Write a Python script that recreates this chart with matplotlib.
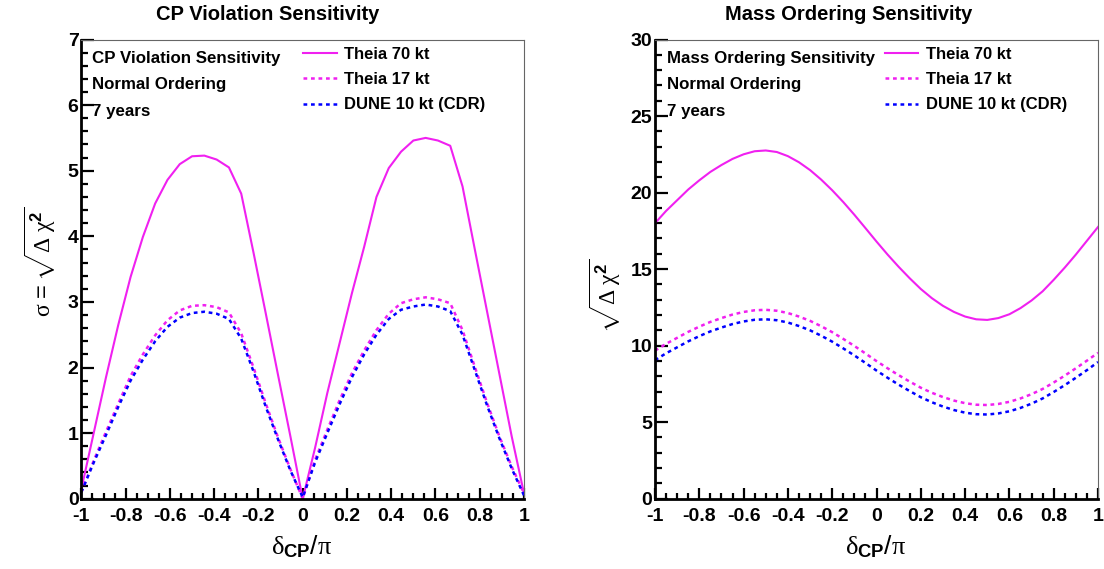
"""Theia vs DUNE sensitivity: CP violation and mass ordering vs delta_CP."""

import matplotlib

matplotlib.use("Agg")
import matplotlib.pyplot as plt
import numpy as np
from matplotlib.ticker import MultipleLocator

plt.rcParams["font.family"] = ["Liberation Sans", "DejaVu Sans"]
plt.rcParams["font.weight"] = "normal"
plt.rcParams["mathtext.fontset"] = "custom"
plt.rcParams["mathtext.rm"] = "Liberation Serif:regular"
plt.rcParams["mathtext.it"] = "Liberation Serif:italic"
plt.rcParams["mathtext.bf"] = "Liberation Sans:bold"
plt.rcParams["mathtext.sf"] = "Liberation Sans:regular"

# --- data -----------------------------------------------------------------
# CP violation: sampled every 10 degrees in delta_CP
cpv_delta = np.linspace(-1.0, 1.0, 37)
cpv_theia70 = [0.15, 1.00, 1.85, 2.65, 3.38, 3.99, 4.50, 4.86, 5.10, 5.22, 5.23, 5.17, 5.05,
               4.65, 3.75, 2.82, 1.88, 0.95, 0.00, 0.77, 1.61, 2.37, 3.13, 3.84, 4.60, 5.04,
               5.29, 5.46, 5.50, 5.46, 5.38, 4.76, 3.80, 2.85, 1.90, 0.95, 0.08]
cpv_theia17 = [0.10, 0.58, 1.02, 1.45, 1.87, 2.20, 2.49, 2.72, 2.87, 2.94, 2.95, 2.92, 2.84,
               2.52, 2.00, 1.45, 0.93, 0.45, 0.00, 0.59, 1.05, 1.50, 1.91, 2.26, 2.57, 2.82,
               2.98, 3.04, 3.07, 3.04, 2.98, 2.57, 2.01, 1.46, 0.95, 0.49, 0.08]
cpv_dune10 = [0.10, 0.55, 0.97, 1.40, 1.80, 2.12, 2.40, 2.62, 2.76, 2.83, 2.85, 2.82, 2.74,
              2.44, 1.94, 1.40, 0.90, 0.43, 0.02, 0.55, 1.00, 1.44, 1.85, 2.20, 2.50, 2.74,
              2.88, 2.93, 2.96, 2.93, 2.86, 2.50, 1.96, 1.42, 0.92, 0.46, 0.05]

# Mass ordering: sampled every 0.05 in delta_CP/pi
mo_delta = np.linspace(-1.0, 1.0, 41)
mo_theia70 = [18.00, 18.80, 19.50, 20.20, 20.80, 21.35, 21.80, 22.20, 22.50, 22.70, 22.75,
              22.65, 22.38, 21.98, 21.47, 20.85, 20.15, 19.38, 18.55, 17.68, 16.80, 15.95,
              15.15, 14.40, 13.70, 13.10, 12.60, 12.20, 11.90, 11.72, 11.68, 11.80, 12.05,
              12.45, 12.95, 13.55, 14.30, 15.10, 15.95, 16.85, 17.75]
mo_theia17 = [9.67, 10.12, 10.51, 10.90, 11.24, 11.55, 11.80, 12.03, 12.20, 12.31, 12.34,
              12.28, 12.13, 11.90, 11.62, 11.27, 10.88, 10.44, 9.98, 9.49, 8.99, 8.52,
              8.07, 7.65, 7.25, 6.92, 6.64, 6.41, 6.24, 6.14, 6.12, 6.19, 6.33, 6.55,
              6.83, 7.17, 7.59, 8.04, 8.52, 9.02, 9.53]
mo_dune10 = [9.05, 9.50, 9.89, 10.28, 10.62, 10.93, 11.18, 11.41, 11.58, 11.69, 11.72,
             11.66, 11.51, 11.28, 11.00, 10.65, 10.26, 9.82, 9.36, 8.87, 8.37, 7.90,
             7.45, 7.03, 6.63, 6.30, 6.02, 5.79, 5.62, 5.52, 5.50, 5.57, 5.71, 5.93,
             6.21, 6.55, 6.97, 7.42, 7.90, 8.40, 8.93]

series_labels = ["Theia 70 kt", "Theia 17 kt", "DUNE 10 kt (CDR)"]
info_lines_cpv = ["CP Violation Sensitivity", "Normal Ordering", "7 years"]
info_lines_mo = ["Mass Ordering Sensitivity", "Normal Ordering", "7 years"]

MAGENTA = "#f020f0"
BLUE = "#0000ff"
DOTS = (0, (1.5, 1.5))

W, H = 1104, 569
fig = plt.figure(figsize=(W / 100, H / 100), dpi=100)


def px_axes(x0, x1, ytop, ybot):
    return fig.add_axes([x0 / W, 1 - ybot / H, (x1 - x0) / W, (ybot - ytop) / H])


def tick_text(v, pos):
    if abs(v) < 1e-9:
        return "0"
    return f"{v:g}"


def style_axes(ax, ymax, ymajor, yminor):
    ax.set_xlim(-1, 1)
    ax.set_ylim(0, ymax)
    ax.xaxis.set_major_locator(MultipleLocator(0.2))
    ax.xaxis.set_minor_locator(MultipleLocator(0.05))
    ax.yaxis.set_major_locator(MultipleLocator(ymajor))
    ax.yaxis.set_minor_locator(MultipleLocator(yminor))
    ax.xaxis.set_major_formatter(tick_text)
    ax.yaxis.set_major_formatter(tick_text)
    for side in ("left", "bottom"):
        ax.spines[side].set_linewidth(2.0)
        ax.spines[side].set_color("black")
    for side in ("top", "right"):
        ax.spines[side].set_linewidth(0.8)
        ax.spines[side].set_color("#666666")
    ax.tick_params(axis="both", which="both", direction="in", top=False, right=False,
                   labelsize=14, width=1.6, colors="black")
    ax.tick_params(axis="x", which="major", length=8, pad=7)
    ax.tick_params(axis="x", which="minor", length=4)
    ax.tick_params(axis="y", which="major", length=9, pad=2)
    ax.tick_params(axis="y", which="minor", length=5)
    for lab in ax.get_xticklabels() + ax.get_yticklabels():
        lab.set_fontweight("bold")


def draw_curves(ax, x, s70, s17, sdune):
    ax.plot(x, s70, color=MAGENTA, lw=1.5, label=series_labels[0])
    ax.plot(x, s17, color=MAGENTA, lw=1.8, linestyle=DOTS, label=series_labels[1])
    ax.plot(x, sdune, color=BLUE, lw=1.8, linestyle=DOTS, label=series_labels[2])


def draw_info(ax, lines, x_text, x_leg):
    for i, line in enumerate(lines):
        ax.text(x_text, 0.959 - i * 0.058, line, transform=ax.transAxes, fontsize=12.2,
                fontweight="bold", va="center", ha="left")
    leg = ax.legend(loc="upper left", bbox_to_anchor=(x_leg, 0.995), frameon=False,
                    fontsize=12, handlelength=2.0, handletextpad=0.45, labelspacing=0.62,
                    borderaxespad=0.0, borderpad=0.3)
    for t in leg.get_texts():
        t.set_fontweight("bold")


# --- left panel: CP violation --------------------------------------------
ax1 = px_axes(81.4, 524.0, 39.5, 498.7)
draw_curves(ax1, cpv_delta, cpv_theia70, cpv_theia17, cpv_dune10)
style_axes(ax1, 7, 1, 0.2)
draw_info(ax1, info_lines_cpv, 0.024, 0.49)

# --- right panel: mass ordering ------------------------------------------
ax2 = px_axes(655.0, 1098.0, 39.5, 498.7)
draw_curves(ax2, mo_delta, mo_theia70, mo_theia17, mo_dune10)
style_axes(ax2, 30, 5, 1)
draw_info(ax2, info_lines_mo, 0.026, 0.508)

# titles and axis titles
fig.text(268 / W, 1 - 14 / H, "CP Violation Sensitivity", fontsize=14.5, fontweight="bold",
         ha="center", va="center")
fig.text(849 / W, 1 - 14 / H, "Mass Ordering Sensitivity", fontsize=14.5, fontweight="bold",
         ha="center", va="center")
xlabel = r"$\mathrm{\delta}_{\mathbf{CP}}\mathsf{/}\mathrm{\pi}$"
fig.text(302 / W, 1 - 547 / H, xlabel, fontsize=19, ha="center", va="center")
fig.text(876 / W, 1 - 547 / H, xlabel, fontsize=19, ha="center", va="center")
fig.text(40 / W, 1 - 262 / H, r"$\mathrm{\sigma}\,\mathsf{=}\sqrt{\mathrm{\Delta}\ \mathrm{\chi}^{\mathbf{2}}}$",
         fontsize=17, rotation=90, ha="center", va="center")
fig.text(605 / W, 1 - 296 / H, r"$\sqrt{\mathrm{\Delta}\ \mathrm{\chi}^{\mathbf{2}}}$",
         fontsize=17, rotation=90, ha="center", va="center")

fig.savefig("out.png", dpi=100)
